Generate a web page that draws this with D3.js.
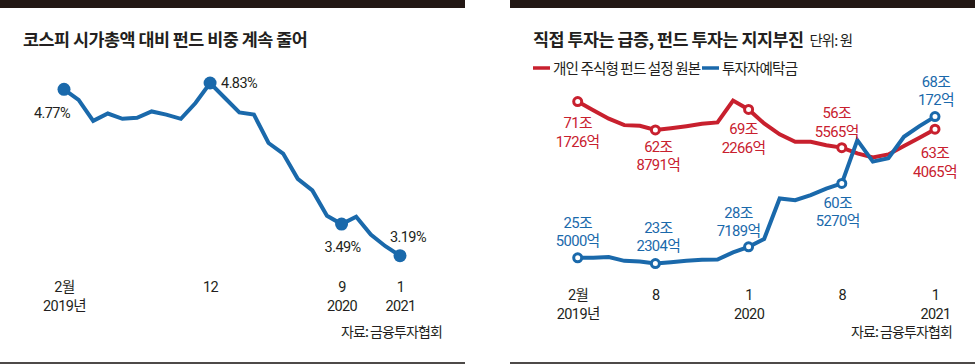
<!DOCTYPE html>
<html>
<head>
<meta charset="utf-8">
<script src="https://cdn.jsdelivr.net/npm/d3@7"></script>
<style>
  body { margin: 0; background: #fff; }
  svg { display: block; font-family: 'Noto Sans CJK KR', 'Noto Sans', sans-serif; }
  .num { font-family: Roboto, 'Noto Sans CJK KR', sans-serif; }
</style>
</head>
<body>
<svg id="chart" width="975" height="364"></svg>
<script>
// months Feb 2019 .. Jan 2021
const months = ['2019-02', '2019-03', '2019-04', '2019-05', '2019-06', '2019-07',
  '2019-08', '2019-09', '2019-10', '2019-11', '2019-12', '2020-01', '2020-02',
  '2020-03', '2020-04', '2020-05', '2020-06', '2020-07', '2020-08', '2020-09',
  '2020-10', '2020-11', '2020-12', '2021-01'];

// KOSPI market cap vs fund share (%)
const kospiShare = [4.77, 4.67, 4.47, 4.54, 4.49, 4.50, 4.56, 4.53, 4.49, 4.64,
  4.83, 4.69, 4.55, 4.53, 4.26, 4.16, 3.92, 3.81, 3.57, 3.49, 3.56, 3.39, 3.28, 3.19];

// 조 won
const fundPrincipal = [71.2, 68.7, 66.2, 64.3, 64.1, 62.9, 63.4, 64.0, 64.7, 65.1,
  71.5, 68.9, 64.8, 61.6, 59.4, 59.4, 58.4, 57.7, 56.0, 54.8, 55.7, 58.2, 60.6, 63.1];
const deposits = [25.4, 25.4, 25.6, 24.5, 24.3, 23.7, 24.1, 24.5, 24.8, 24.9,
  27.0, 28.6, 30.9, 42.8, 42.3, 43.8, 45.7, 47.2, 59.9, 53.6, 54.6, 60.9, 64.0, 66.8];

const leftTicks = [
  { i: 0, l1: '2월', l2: '2019년' },
  { i: 10, l1: '12', l2: '' },
  { i: 19, l1: '9', l2: '2020' },
  { i: 23, l1: '1', l2: '2021' }
];
const rightTicks = [
  { i: 0, l1: '2월', l2: '2019년' },
  { i: 5, l1: '8', l2: '' },
  { i: 11, l1: '1', l2: '2020' },
  { i: 17, l1: '8', l2: '' },
  { i: 23, l1: '1', l2: '2021' }
];

const leftMarks = [
  { i: 0, text: '4.77%' },
  { i: 10, text: '4.83%' },
  { i: 19, text: '3.49%' },
  { i: 23, text: '3.19%' }
];
const fundMarks = [
  { i: 0, t1: '71조', t2: '1726억' },
  { i: 5, t1: '62조', t2: '8791억' },
  { i: 11, t1: '69조', t2: '2266억' },
  { i: 17, t1: '56조', t2: '5565억' },
  { i: 23, t1: '63조', t2: '4065억' }
];
const depositMarks = [
  { i: 0, t1: '25조', t2: '5000억' },
  { i: 5, t1: '23조', t2: '2304억' },
  { i: 11, t1: '28조', t2: '7189억' },
  { i: 17, t1: '60조', t2: '5270억' },
  { i: 23, t1: '68조', t2: '172억' }
];

// label placement (layout only)
const leftLabelPos = [
  { dx: -12, dy: 29, anchor: 'middle' },
  { dx: 11, dy: 5, anchor: 'start' },
  { dx: 1, dy: 28, anchor: 'middle' },
  { dx: 8, dy: -14, anchor: 'middle' }
];
const fundLabelPos = [
  { dx: 0, dy: 26.5 }, { dx: 3, dy: 22 }, { dx: -5, dy: 25 }, { dx: -5, dy: -29.5 }, { dx: 0, dy: 29 }
];
const depositLabelPos = [
  { dx: 0, dy: -30 }, { dx: 3, dy: -31 }, { dx: -10, dy: -29 }, { dx: -4, dy: 24.5 }, { dx: 1, dy: -30 }
];

const dark = '#231f20';
const blue = '#1a69ab';
const red = '#c8202e';
const lineH = 18.5;

const svg = d3.select('#chart');

// ---------- frames ----------
const panels = [{ x0: 0, x1: 465 }, { x0: 510, x1: 975 }];
svg.selectAll('.topbar')
  .data(panels)
  .join('rect')
  .attr('class', 'topbar')
  .attr('x', d => d.x0)
  .attr('y', 0)
  .attr('width', d => d.x1 - d.x0)
  .attr('height', 8)
  .attr('fill', '#231815');
svg.selectAll('.bottomline')
  .data(panels)
  .join('rect')
  .attr('class', 'bottomline')
  .attr('x', d => d.x0)
  .attr('y', 362)
  .attr('width', d => d.x1 - d.x0)
  .attr('height', 2)
  .attr('fill', '#4d4a48');

// two stacked lines as separate text nodes
function twoLines(sel, x, y, l1, l2) {
  sel.append('text').attr('class', 'num').attr('x', x).attr('y', y).text(l1);
  sel.append('text').attr('class', 'num').attr('x', x).attr('y', d => (typeof y === 'function' ? y(d) : y) + lineH).text(l2);
}

// ---------- left chart ----------
const xL = d3.scaleLinear().domain([0, months.length - 1]).range([64, 400]);
const yL = d3.scaleLinear().domain([3, 5]).range([275.7, 65.1]);

svg.append('text')
  .attr('x', 23)
  .attr('y', 46)
  .attr('fill', dark)
  .attr('font-size', 17.4)
  .attr('font-weight', 'bold')
  .attr('letter-spacing', -0.5)
  .text('코스피 시가총액 대비 펀드 비중 계속 줄어');

svg.append('path')
  .datum(kospiShare)
  .attr('fill', 'none')
  .attr('stroke', blue)
  .attr('stroke-width', 4)
  .attr('d', d3.line().x((d, i) => xL(i)).y(d => yL(d)));

svg.selectAll('.kdot')
  .data(leftMarks)
  .join('circle')
  .attr('class', 'kdot')
  .attr('cx', d => xL(d.i))
  .attr('cy', d => yL(kospiShare[d.i]))
  .attr('r', 6.5)
  .attr('fill', blue);

svg.selectAll('.klabel')
  .data(leftMarks)
  .join('text')
  .attr('class', 'klabel num')
  .attr('x', (d, k) => xL(d.i) + leftLabelPos[k].dx)
  .attr('y', (d, k) => yL(kospiShare[d.i]) + leftLabelPos[k].dy)
  .attr('text-anchor', (d, k) => leftLabelPos[k].anchor)
  .attr('fill', dark)
  .attr('font-size', 14.5)
  .attr('letter-spacing', -0.6)
  .text(d => d.text);

function drawAxis(xScale, ticks, baseline) {
  const g = svg.append('g')
    .attr('transform', `translate(0,${baseline})`)
    .call(d3.axisBottom(xScale).tickValues(ticks.map(d => d.i)).tickSize(0).tickPadding(0));
  g.select('.domain').remove();
  g.selectAll('.tick line').remove();
  g.selectAll('.tick text').remove();
  g.selectAll('.tick').each(function (d) {
    const t = ticks.find(e => e.i === d);
    const tick = d3.select(this)
      .append('g')
      .attr('fill', dark)
      .attr('font-size', 14.5)
      .attr('letter-spacing', -0.6)
      .attr('text-anchor', 'middle');
    tick.append('text').attr('class', 'num').attr('y', 0).text(t.l1);
    if (t.l2) tick.append('text').attr('class', 'num').attr('y', lineH).text(t.l2);
  });
  g.attr('font-family', null).attr('font-size', null);
}

drawAxis(xL, leftTicks, 292);

// ---------- right chart ----------
const xR = d3.scaleLinear().domain([0, months.length - 1]).range([577.7, 935]);
const yR = d3.scaleLinear().domain([20, 75]).range([276.2, 88.65]);

const title = svg.append('text')
  .attr('x', 533)
  .attr('y', 46)
  .attr('fill', dark)
  .attr('letter-spacing', -0.5);
title.append('tspan')
  .attr('font-size', 17.4)
  .attr('font-weight', 'bold')
  .text('직접 투자는 급증, 펀드 투자는 지지부진');
title.append('tspan')
  .attr('dx', 6)
  .attr('font-size', 14.5)
  .attr('letter-spacing', -0.9)
  .text('단위: 원');

const legend = [
  { x: 533, color: red, label: '개인 주식형 펀드 설정 원본' },
  { x: 702, color: blue, label: '투자자예탁금' }
];
const lg = svg.selectAll('.legend')
  .data(legend)
  .join('g')
  .attr('class', 'legend')
  .attr('transform', d => `translate(${d.x},68)`);
lg.append('line')
  .attr('x1', 0)
  .attr('x2', 17)
  .attr('stroke', d => d.color)
  .attr('stroke-width', 3.5);
lg.append('text')
  .attr('x', 20)
  .attr('y', 5.5)
  .attr('fill', dark)
  .attr('font-size', 14.6)
  .attr('letter-spacing', -0.9)
  .text(d => d.label);

const lineR = d3.line().x((d, i) => xR(i)).y(d => yR(d));

svg.append('path')
  .datum(fundPrincipal)
  .attr('fill', 'none')
  .attr('stroke', red)
  .attr('stroke-width', 4)
  .attr('d', lineR);

svg.append('path')
  .datum(deposits)
  .attr('fill', 'none')
  .attr('stroke', blue)
  .attr('stroke-width', 4)
  .attr('d', lineR);

function seriesMarks(cls, marks, values, pos, color) {
  svg.selectAll(`.${cls}dot`)
    .data(marks)
    .join('circle')
    .attr('class', `${cls}dot`)
    .attr('cx', d => xR(d.i))
    .attr('cy', d => yR(values[d.i]))
    .attr('r', 4)
    .attr('fill', '#fff')
    .attr('stroke', color)
    .attr('stroke-width', 3);

  const g = svg.selectAll(`.${cls}label`)
    .data(marks)
    .join('g')
    .attr('class', `${cls}label`)
    .attr('text-anchor', 'middle')
    .attr('fill', color)
    .attr('font-size', 14.8)
    .attr('letter-spacing', -0.6);
  g.append('text')
    .attr('class', 'num')
    .attr('x', (d, k) => xR(d.i) + pos[k].dx)
    .attr('y', (d, k) => yR(values[d.i]) + pos[k].dy)
    .text(d => d.t1);
  g.append('text')
    .attr('class', 'num')
    .attr('x', (d, k) => xR(d.i) + pos[k].dx)
    .attr('y', (d, k) => yR(values[d.i]) + pos[k].dy + lineH)
    .text(d => d.t2);
}

seriesMarks('fund', fundMarks, fundPrincipal, fundLabelPos, red);
seriesMarks('dep', depositMarks, deposits, depositLabelPos, blue);

drawAxis(xR, rightTicks, 300);

// ---------- sources ----------
svg.selectAll('.source')
  .data([442, 952])
  .join('text')
  .attr('class', 'source')
  .attr('x', d => d)
  .attr('y', 337)
  .attr('text-anchor', 'end')
  .attr('fill', dark)
  .attr('font-size', 14)
  .attr('letter-spacing', -0.9)
  .text('자료: 금융투자협회');
</script>
</body>
</html>
